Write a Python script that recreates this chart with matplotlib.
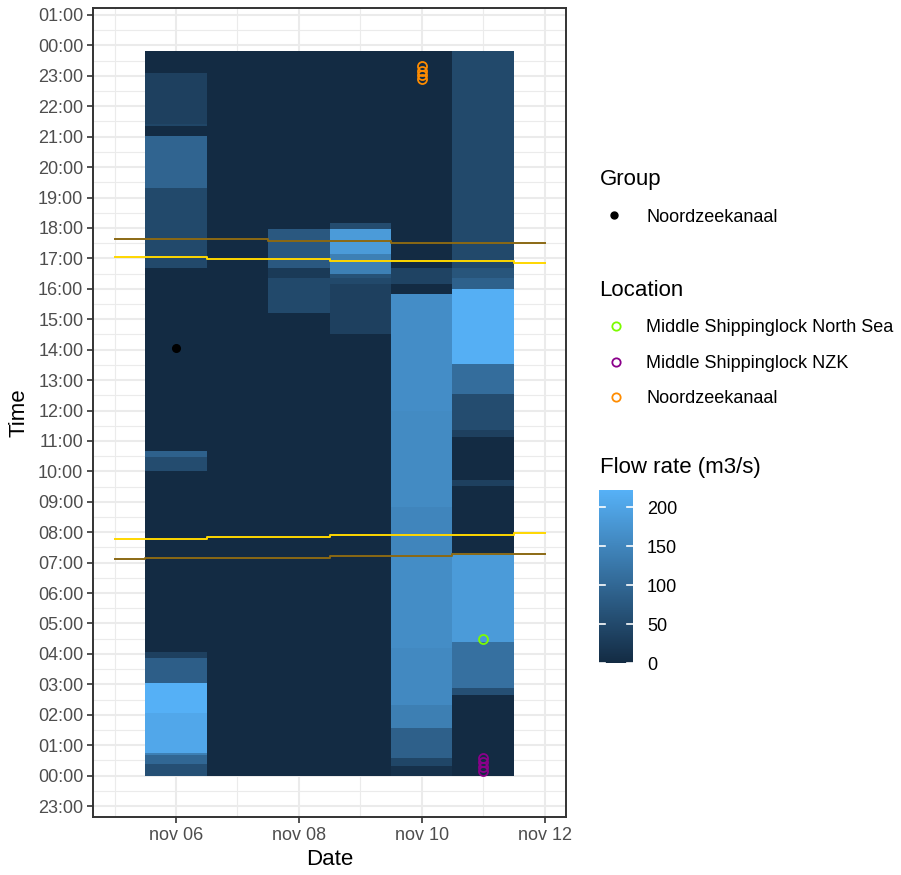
import numpy as np
import matplotlib
matplotlib.use("Agg")
import matplotlib.pyplot as plt
import matplotlib.dates as mdates
from matplotlib.colors import LinearSegmentedColormap, Normalize
from matplotlib.lines import Line2D
from matplotlib.ticker import FuncFormatter
from datetime import datetime

plt.rcParams["font.family"] = ["Liberation Sans", "DejaVu Sans"]

YEAR = 2022

# flow rate per day: hour edges of each block and the flow (m3/s) in that block
days = [6, 7, 8, 9, 10, 11]
nov06_hours = [0, 0.38, 0.69, 0.75, 2.06, 3.06, 3.86, 4.05, 10.02, 10.48, 10.68,
               16.67, 19.31, 21.01, 21.34, 21.43, 23.10, 23.83]
nov06_flow = [60, 100, 140, 205, 220, 85, 35, 0, 55, 90, 0, 50, 95, 0, 45, 35, 0]
nov07_hours = [0, 23.83]
nov07_flow = [0]
nov08_hours = [0, 15.19, 16.34, 16.67, 17.98, 23.83]
nov08_flow = [0, 50, 25, 75, 0]
nov09_hours = [0, 14.53, 16.15, 16.37, 16.50, 17.14, 17.98, 18.16, 23.83]
nov09_flow = [0, 35, 50, 65, 140, 185, 55, 0]
nov10_hours = [0, 0.31, 0.58, 1.56, 2.33, 4.19, 7.26, 8.84, 12.0, 15.82, 16.17,
               16.67, 23.83]
nov10_flow = [10, 45, 88, 138, 155, 162, 150, 158, 163, 0, 40, 0]
nov11_hours = [0, 2.66, 2.88, 4.38, 7.31, 9.52, 9.72, 11.14, 11.36, 12.54, 13.53,
               16.0, 16.35, 16.67, 23.83]
nov11_flow = [0, 60, 115, 185, 0, 35, 0, 35, 55, 110, 218, 90, 70, 50]

hours_per_day = [nov06_hours, nov07_hours, nov08_hours, nov09_hours, nov10_hours, nov11_hours]
flow_per_day = [nov06_flow, nov07_flow, nov08_flow, nov09_flow, nov10_flow, nov11_flow]

# sun times, nov 05 .. nov 12
sun_days = [5, 6, 7, 8, 9, 10, 11, 12]
sunrise = ["07:47", "07:47", "07:50", "07:50", "07:54", "07:54", "07:54", "07:58"]
sunset = ["17:02", "17:02", "16:59", "16:59", "16:55", "16:55", "16:55", "16:51"]
dawn = ["07:07", "07:10", "07:10", "07:10", "07:14", "07:14", "07:17", "07:17"]
dusk = ["17:38", "17:38", "17:38", "17:34", "17:34", "17:30", "17:30", "17:30"]

# observations
group_day = [6]
group_time = ["14:03"]
loc_names = ["Middle Shippinglock North Sea", "Middle Shippinglock NZK", "Noordzeekanaal"]
loc_colors = ["#7CFC00", "#8B008B", "#FF8C00"]
loc_days = [[11], [11, 11, 11, 11], [10, 10, 10, 10]]
loc_times = [["04:29"], ["00:09", "00:17", "00:26", "00:34"],
             ["22:53", "23:02", "23:10", "23:19"]]


def hhmm(s):
    h, m = s.split(":")
    return int(h) + int(m) / 60


def dnum(d):
    return mdates.date2num(datetime(YEAR, 11, d))


W, H = 901, 875


def px(x, y):
    return x / W, 1 - y / H


fig = plt.figure(figsize=(W / 100, H / 100), dpi=100)
ax = fig.add_axes([93 / W, 1 - 817 / H, (566 - 93) / W, (817 - 8) / H])

cmap = LinearSegmentedColormap.from_list("gg", ["#132B43", "#56B1F7"])
norm = Normalize(0, 222)

for d, hrs, fl in zip(days, hours_per_day, flow_per_day):
    x0 = dnum(d)
    mesh = ax.pcolormesh([x0 - 0.5, x0 + 0.5], hrs, np.array(fl, float)[:, None],
                         cmap=cmap, norm=norm, zorder=2)

sx = [dnum(d) for d in sun_days]
ax.step(sx, [hhmm(t) for t in dusk], where="mid", color="#8B6914", lw=1.4, zorder=3)
ax.step(sx, [hhmm(t) for t in dawn], where="mid", color="#8B6914", lw=1.4, zorder=3)
ax.step(sx, [hhmm(t) for t in sunset], where="mid", color="#FFD700", lw=1.4, zorder=3)
ax.step(sx, [hhmm(t) for t in sunrise], where="mid", color="#FFD700", lw=1.4, zorder=3)

ax.plot([dnum(d) for d in group_day], [hhmm(t) for t in group_time], "o",
        color="black", ms=5.5, zorder=4)
for c, ds, ts in zip(loc_colors, loc_days, loc_times):
    ax.plot([dnum(d) for d in ds], [hhmm(t) for t in ts], "o", mfc="none",
            mec=c, mew=1.3, ms=6.5, zorder=4)

ax.set_xlim(dnum(5) - 0.35, dnum(12) + 0.35)
ax.set_ylim(-1.36, 25.23)
ax.set_xticks([dnum(d) for d in [6, 8, 10, 12]])
ax.set_xticks([dnum(d) for d in [5, 7, 9, 11]], minor=True)
ax.xaxis.set_major_formatter(FuncFormatter(lambda x, p: mdates.num2date(x).strftime("%b %d").lower()))
ax.set_yticks(np.arange(-1, 26))
ax.set_yticklabels([f"{h % 24:02d}:00" for h in range(-1, 26)])
ax.set_yticks(np.arange(-0.5, 25.5, 1), minor=True)

ax.grid(which="major", color="#EBEBEB", lw=1.5)
ax.grid(which="minor", color="#EBEBEB", lw=0.8)
ax.set_axisbelow(True)
for s in ax.spines.values():
    s.set_color("#333333")
    s.set_linewidth(1.4)
ax.tick_params(which="major", length=4, width=1.2, color="#333333",
               labelcolor="#4D4D4D", labelsize=13, pad=3)
ax.tick_params(which="minor", length=0)
ax.set_xlabel("Date", fontsize=16, labelpad=4)
ax.set_ylabel("Time", fontsize=16, labelpad=6)

# legends
fig.text(*px(600, 180), "Group", fontsize=16, va="center")
fig.add_artist(Line2D([614 / W], [1 - 215 / H], marker="o", color="black", ms=5,
                      transform=fig.transFigure))
fig.text(*px(646, 217), "Noordzeekanaal", fontsize=13, va="center")

fig.text(*px(599, 290), "Location", fontsize=16, va="center")
for i, (name, c) in enumerate(zip(loc_names, loc_colors)):
    y = [326, 362, 397][i]
    fig.add_artist(Line2D([616 / W], [1 - y / H], marker="o", mfc="none", mec=c,
                          mew=1.3, ms=6, transform=fig.transFigure))
    fig.text(*px(646, y + 2), name, fontsize=13, va="center")

fig.text(*px(600, 468), "Flow rate (m3/s)", fontsize=16, va="center")
cax = fig.add_axes([599 / W, 1 - 663 / H, 34 / W, 173 / H])
cb = fig.colorbar(mesh, cax=cax, ticks=[0, 50, 100, 150, 200])
cb.outline.set_visible(False)
cax.tick_params(length=0, labelsize=13, pad=10, labelcolor="black")
for t in [0, 50, 100, 150, 200]:
    cax.plot([0, 0.18], [t, t], color="white", lw=1.2)
    cax.plot([0.82, 1], [t, t], color="white", lw=1.2)

fig.savefig("out.png", dpi=100)
